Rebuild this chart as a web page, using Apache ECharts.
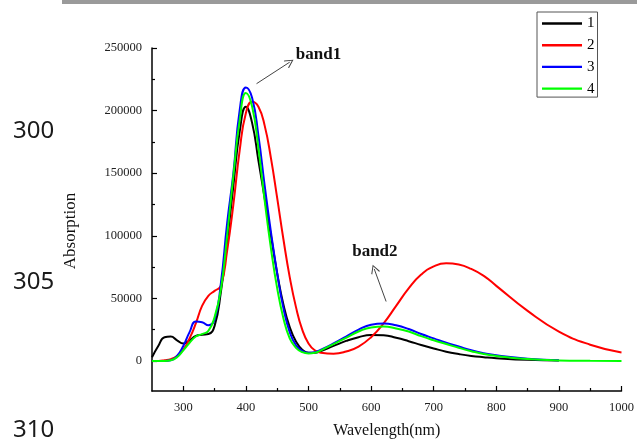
<!DOCTYPE html>
<html><head><meta charset="utf-8">
<script src="https://cdn.jsdelivr.net/npm/echarts@6/dist/echarts.min.js"></script>
<style>html,body{margin:0;padding:0;background:#fff}#c{width:637px;height:444px}</style>
</head><body><div id="c"></div>
<script>
const wavelengths = [250,260,270,280,290,300,310,320,330,340,350,360,370,380,390,400,410,420,430,440,450,460,470,480,490,500,510,520,540,560,580,600,620,640,660,680,700,720,740,760,780,800,850,900,950,1000];
const abs1 = [3000,12000,19000,19500,16500,14000,16500,20000,21000,21500,28000,55000,95000,140000,183000,203000,190000,160000,130000,100000,70000,45000,27000,15500,9000,6500,6500,8000,12000,16000,19000,20700,20500,18500,15800,12800,10000,7400,5500,4000,3000,2200,900,300,null,null];
const abs2 = [0,0,500,1500,4000,9000,18000,30000,44000,52000,56000,60000,88000,125000,168000,198000,207000,203000,188000,162000,130000,97000,67000,43000,25000,14000,8500,6500,5800,7500,11500,19000,30000,44000,58000,69000,75500,78000,77000,73500,68000,60000,40000,23500,13000,6800];
const abs3 = [0,0,0,500,4000,12000,23000,31500,31000,28500,33000,62000,110000,150000,200000,218500,210000,180000,140000,103000,70000,42000,23000,12500,8000,6500,7000,9000,14000,19500,25000,29000,30000,28500,25500,21500,18000,14500,11500,8500,6200,4500,1800,500,null,null];
const abs4 = [0,0,0,500,3000,8500,14500,19500,21500,24000,35000,57000,100000,148000,192000,214000,203000,170000,128000,90000,58000,34000,18000,10500,7000,6000,6500,8500,13500,18500,23500,26800,27500,26000,23500,19800,16500,13500,10500,7800,5500,4000,1500,400,100,0];
const seriesNames = ['1','2','3','4'];
const seriesColors = ['#000000','#ff0000','#0000ff','#00ff00'];
const xTickLabels = [300,400,500,600,700,800,900,1000];
const xMinorTicks = [350,450,550,650,750,850,950];
const yTickLabels = [0,50000,100000,150000,200000,250000];
const yMinorTicks = [25000,75000,125000,175000,225000];
const annotations = [{name:'band1', x:516, y:244500}, {name:'band2', x:606, y:87000}];
const arrows = [[[417,221500],[470,238700]], [[624,47500],[605,73500]]];

const serif = '"Liberation Serif","Times New Roman",serif';
const allSeries = [abs1,abs2,abs3,abs4];
const openArrow = 'path://M0,0 L6,10 L5,11 L0,2.4 L-5,11 L-6,10 Z';
const legendIcon = 'path://M0,0 L40,0 L40,2.4 L0,2.4 Z';

const series = allSeries.map((vals, i) => ({
  name: seriesNames[i], type: 'line', xAxisIndex: 0, yAxisIndex: 0,
  data: wavelengths.map((w, j) => [w, vals[j]]),
  smooth: 0.5, symbol: 'none', showSymbol: false,
  lineStyle: {color: seriesColors[i], width: 2}, itemStyle: {color: seriesColors[i]},
  z: 2 + i
}));
series[0].markLine = {
  silent: true, animation: false, symbol: ['none', openArrow], symbolSize: [9, 9],
  lineStyle: {color: '#444', width: 1, type: 'solid'}, label: {show: false},
  data: arrows.map(a => [{coord: a[0]}, {coord: a[1]}])
};
series[0].markPoint = {
  silent: true, animation: false, symbol: 'circle', symbolSize: 1,
  itemStyle: {color: 'rgba(0,0,0,0)'},
  label: {show: true, position: 'inside', formatter: '{b}', fontFamily: serif, fontWeight: 'bold', fontSize: 17, color: '#111'},
  data: annotations.map(a => ({name: a.name, coord: [a.x, a.y]}))
};

const chart = echarts.init(document.getElementById('c'), null, {renderer: 'canvas'});
chart.setOption({
  animation: false,
  backgroundColor: '#ffffff',
  grid: {left: 152, right: 15, top: 48, bottom: 50, containLabel: false},
  legend: {
    orient: 'vertical', left: 537, top: 12,
    data: seriesNames.map(n => ({name: n, icon: legendIcon})),
    symbolKeepAspect: true,
    borderColor: '#555', borderWidth: 1, padding: [4, 3, 1, 5],
    itemWidth: 40, itemHeight: 14, itemGap: 6.7,
    textStyle: {fontFamily: serif, fontSize: 15, color: '#000', lineHeight: 14}
  },
  xAxis: [{
    type: 'value', min: 250, max: 1000, position: 'bottom',
    axisLine: {onZero: false, lineStyle: {color: '#000', width: 1.5}},
    axisTick: {inside: true, length: 5, customValues: xTickLabels, lineStyle: {color: '#000', width: 1.2}},
    axisLabel: {customValues: xTickLabels, margin: 10, fontFamily: serif, fontSize: 12.5, color: '#222', formatter: v => String(v)},
    splitLine: {show: false},
    name: 'Wavelength(nm)', nameLocation: 'middle', nameGap: 32,
    nameTextStyle: {fontFamily: serif, fontSize: 16, color: '#111'}
  }, {
    type: 'value', min: 250, max: 1000, position: 'bottom',
    axisLine: {show: false, onZero: false},
    axisTick: {inside: true, length: 3, customValues: xMinorTicks, lineStyle: {color: '#000', width: 1.2}},
    axisLabel: {show: false}, splitLine: {show: false}
  }],
  yAxis: [{
    type: 'value', min: -24000, max: 250000, position: 'left',
    axisLine: {show: true, onZero: false, lineStyle: {color: '#000', width: 1.5}},
    axisTick: {show: true, inside: true, length: 5, customValues: yTickLabels, lineStyle: {color: '#000', width: 1.2}},
    axisLabel: {customValues: yTickLabels, margin: 10, fontFamily: serif, fontSize: 12.5, color: '#222', formatter: v => String(v)},
    splitLine: {show: false}
  }, {
    type: 'value', min: -24000, max: 250000, position: 'left',
    axisLine: {show: false, onZero: false},
    axisTick: {show: true, inside: true, length: 3, customValues: yMinorTicks, lineStyle: {color: '#000', width: 1.2}},
    axisLabel: {show: false}, splitLine: {show: false}
  }],
  graphic: [
    {type: 'rect', shape: {x: 62, y: 0, width: 575, height: 4}, style: {fill: '#9a9a9a'}, silent: true},
    {type: 'text', x: 13, y: 131, style: {text: '300', font: '24px "Noto Sans", sans-serif', fill: '#1a1a1a', textVerticalAlign: 'middle'}},
    {type: 'text', x: 13, y: 282, style: {text: '305', font: '24px "Noto Sans", sans-serif', fill: '#1a1a1a', textVerticalAlign: 'middle'}},
    {type: 'text', x: 13, y: 430, style: {text: '310', font: '24px "Noto Sans", sans-serif', fill: '#1a1a1a', textVerticalAlign: 'middle'}},
    {type: 'text', x: 71, y: 231, rotation: Math.PI / 2, style: {text: 'Absorption', font: '17px "Liberation Serif", serif', fill: '#111', textAlign: 'center', textVerticalAlign: 'middle'}}
  ],
  series: series
});
</script></body></html>
